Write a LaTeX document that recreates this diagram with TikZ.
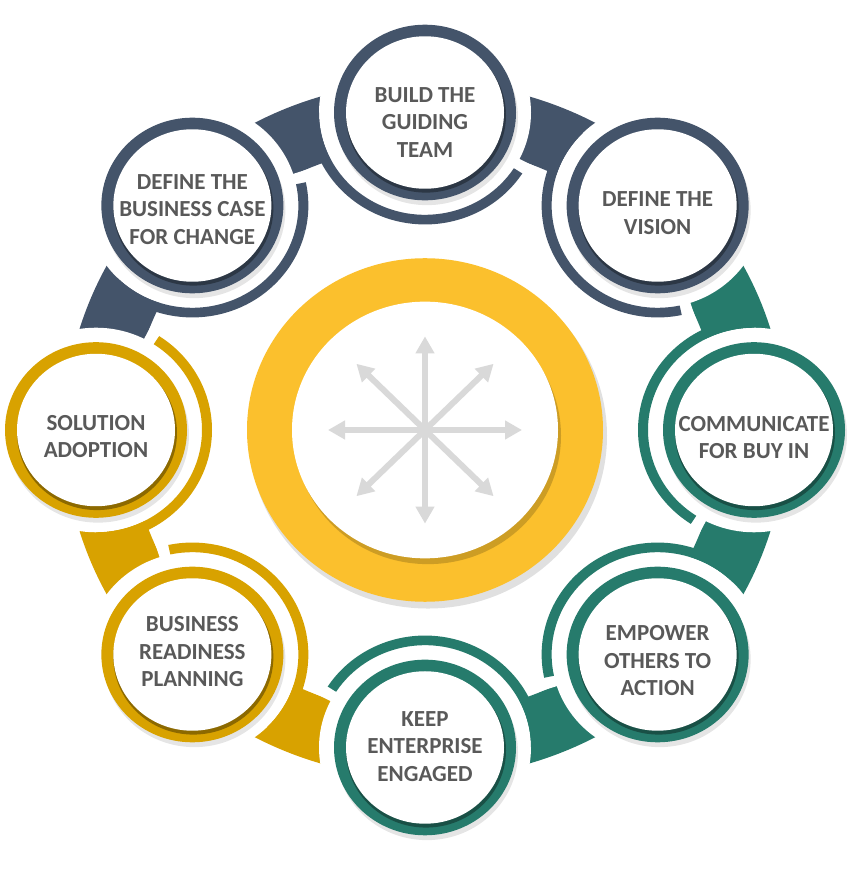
\documentclass[tikz,border=0pt]{standalone}
\usepackage{fontspec}
\setmainfont{Carlito}
\usetikzlibrary{arrows.meta}
\definecolor{navyring}{HTML}{44546A}
\definecolor{tealring}{HTML}{267B6C}
\definecolor{goldring}{HTML}{D8A200}
\definecolor{hubyellow}{HTML}{FBC02D}
\definecolor{arrowgray}{HTML}{D9D9D9}
\definecolor{labelgray}{HTML}{595959}
\tikzset{
  steplabel/.style={font=\bfseries\fontsize{23}{27.5}\selectfont, text=labelgray, align=center},
  spoke/.style={draw=arrowgray, line width=6pt, -{Triangle[width=18pt,length=17pt]}},
}

\begin{document}
\begin{tikzpicture}[x=1pt, y=1pt]
\useasboundingbox (0,0) rectangle (847,876);
\fill[white] (0,0) rectangle (847,876);
\begin{scope}[shift={(425,446)}, yscale=0.965]
% hub in the middle
\fill[black, opacity=0.12] (3,-6) circle (179);
\fill[hubyellow] (0,0) circle (178);
\fill[black, opacity=0.18] (3,-6) circle (133);
\fill[white] (0,0) circle (133);
\foreach \a in {0,45,...,315}
  \draw[spoke] (0,0) -- (\a:97);
% bands between the steps
\foreach \a/\col in {90/navyring, 45/navyring, 0/tealring, -45/tealring, -90/tealring, -135/goldring, 180/goldring, 135/navyring}
  \fill[fill=\col] (\a:295) arc[start angle=\a, end angle=\a+45, radius=295]
    -- (\a+45:361) arc[start angle=\a+45, end angle=\a, radius=361] -- cycle;
% white gaps round the steps
\foreach \a in {90,45,...,-225} {
  \fill[white] (\a:329) circle (106);
  \fill[white] ([shift={(\a:329)}]\a-117:100) arc[start angle=\a-117, end angle=\a-200, radius=100]
    -- ([shift={(\a:329)}]\a-200:135) arc[start angle=\a-200, end angle=\a-117, radius=135] -- cycle;
}
% the eight steps
\foreach \a/\col/\name/\dy/\txt in {
    90/navyring/build/-10/{BUILD THE\\GUIDING\\TEAM},
    45/navyring/vision/-8/{DEFINE THE\\VISION},
    0/tealring/communicate/-8/{COMMUNICATE\\FOR BUY IN},
    -45/tealring/empower/-6.5/{EMPOWER\\OTHERS TO\\ACTION},
    -90/tealring/keep/1/{KEEP\\ENTERPRISE\\ENGAGED},
    -135/goldring/readiness/3/{BUSINESS\\READINESS\\PLANNING},
    180/goldring/solution/-7/{SOLUTION\\ADOPTION},
    135/navyring/bizcase/-4/{DEFINE THE\\BUSINESS CASE\\FOR CHANGE}} {
  \fill[fill=\col] ([shift={(\a:329)}]\a-123:106) arc[start angle=\a-123, end angle=\a-270, radius=106]
    -- ([shift={(\a:329)}]\a-270:116) arc[start angle=\a-270, end angle=\a-123, radius=116] -- cycle;
  \fill[black, opacity=0.1] ([shift={(\a:329)}]2,-5) circle (91);
  \fill[fill=\col] (\a:329) circle (91);
  \fill[fill=\col!65!black] ([shift={(\a:329)}]1,-3) circle (80);
  \fill[white] (\a:329) circle (79);
  \node[steplabel] (\name) at ([yshift=\dy pt]\a:329) {\txt};
}
\end{scope}
\end{tikzpicture}
\end{document}
